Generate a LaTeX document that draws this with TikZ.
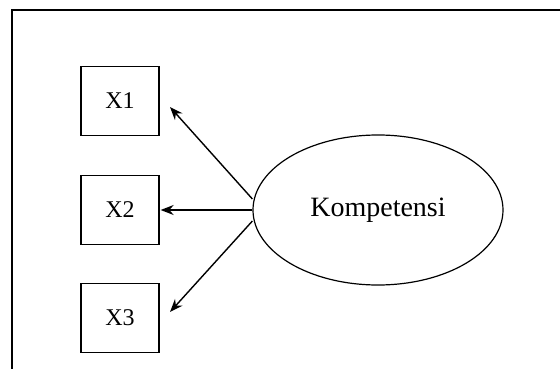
\documentclass[tikz,border=0pt]{standalone}
\usepackage{fontspec}
\setmainfont{Liberation Serif}
\usetikzlibrary{shapes.geometric,arrows.meta}

\begin{document}
\begin{tikzpicture}[x=1pt,y=-1pt,
    indik/.style={draw, line width=1.3pt, minimum width=78pt, minimum height=69pt, font=\fontsize{24}{27}\selectfont},
    laten/.style={draw, ellipse, line width=1.2pt, minimum width=250pt, minimum height=150pt, font=\fontsize{28}{31}\selectfont},
    panah/.style={-{Stealth[length=13pt,width=10pt]}, line width=1.4pt}]
        \useasboundingbox (0,0) rectangle (560,369);
        \draw[line width=1.6pt] (560,10) -- (12,10) -- (12,369);
        \node[indik] (x1) at (120,101) {X1};
        \node[indik] (x2) at (120,210) {X2};
        \node[indik] (x3) at (120,318) {X3};
        \node[laten] (komp) at (378,210) {Kompetensi};
        \coordinate (t1) at (170,107);
        \coordinate (t3) at (170,312);
        \draw[panah] ([yshift=11pt]komp.west) -- (t1);
        \draw[panah] (komp.west) -- ([xshift=1pt]x2.east);
        \draw[panah] ([yshift=-11pt]komp.west) -- (t3);
      \end{tikzpicture}
\end{document}
